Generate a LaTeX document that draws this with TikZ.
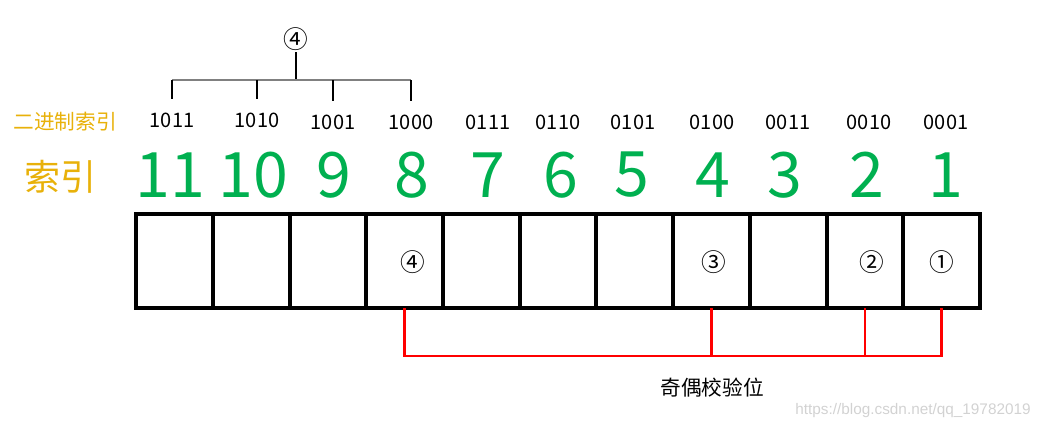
\documentclass[tikz,border=0pt]{standalone}
\usepackage{fontspec}
\setmainfont{Noto Sans CJK SC}
\newfontfamily\urlfont{Liberation Sans}
\usetikzlibrary{positioning}
\definecolor{idxgreen}{HTML}{00B050}
\definecolor{idxgold}{HTML}{E8B10A}
\definecolor{urlgray}{HTML}{D2D2D2}

\begin{document}
\begin{tikzpicture}[x=0.75pt,y=-0.75pt,
  cell/.style={draw,line width=3pt,minimum width=57.55pt,minimum height=70.5pt,inner sep=0pt,outer sep=0pt},
  bignum/.style={text=idxgreen,inner sep=0pt,font=\fontsize{47}{50}\selectfont},
  bin/.style={inner sep=0pt,outer sep=0pt,font=\fontsize{15}{17}\selectfont},
  circnum/.style={inner sep=1pt,font=\fontsize{18.5}{20}\selectfont},
  parity/.style={draw=red,line width=2.2pt},
  branch/.style={line width=1pt}]
 \useasboundingbox (0,0) rectangle (1042,429);

 % the row of bits
 \node [cell] (c11) at (174.4,261) {};
 \foreach \i [evaluate=\i as \j using int(\i+1)] in {10,...,1}
  \node [cell, right=0pt of c\j] (c\i) {};

 % indices and their binary form
 \foreach \n/\x in {11/170,10/253,9/334,8/412,7/488,6/561,5/632,4/713,3/785,2/867,1/946}
  \node [bignum] (n\n) at (\x,175) {\n};
 \foreach \n/\x/\y/\b in {11/172/120/1011,10/257/120/1010,9/333/122/1001,8/411/122/1000,
   7/488/122/0111,6/558/122/0110,5/633/122/0101,4/712/122/0100,3/788/122/0011,2/869/122/0010,1/946/122/0001}
  \node [bin] (b\n) at (\x,\y) {\b};

 \node [text=idxgold,font=\fontsize{15.5}{17}\selectfont] (binlabel) at (65,122) {二进制索引};
 \node [text=idxgold,font=\fontsize{27}{30}\selectfont] (idxlabel) at (60,177) {索引};

 % group of parity bit 4
 \node [circnum] (top) at (296,39) {④};
 \coordinate (j) at (296,80);
 \draw [branch] (top.south) -- (j);
 \draw [line width=1.5pt,draw=gray] (b11.north |- j) -- (b8.north |- j);
 \foreach \n in {11,10,9,8}
  \draw [branch] (b\n.north |- j) -- ([yshift=10pt]b\n.north);

 % parity bits
 \node [circnum] (p4) at (413,262) {④};
 \node [circnum] (p3) at (714,262) {③};
 \node [circnum] (p2) at (872,262) {②};
 \node [circnum] (p1) at (942,262) {①};

 \coordinate (r) at (0,356);
 \draw [parity] (c8.south) |- (c1.south |- r) -- (c1.south);
 \draw [parity] (c4.south) -- (c4.south |- r);
 \draw [parity] (c2.south) -- (c2.south |- r);
 \node [font=\fontsize{15.5}{17}\selectfont] (plabel) at (712,388) {奇偶校验位};

 \node [text=urlgray,font=\urlfont\fontsize{11.5}{13}\selectfont] (url) at (913,411) {https://blog.csdn.net/qq\_19782019};
\end{tikzpicture}
\end{document}
